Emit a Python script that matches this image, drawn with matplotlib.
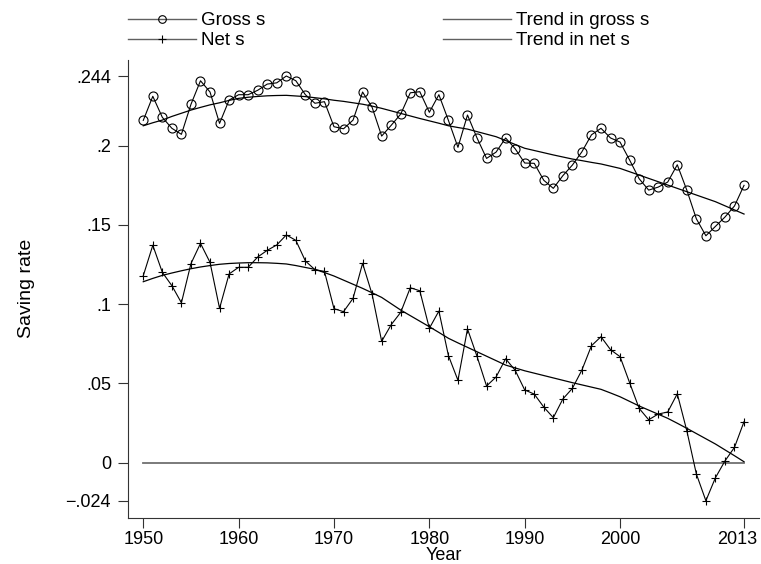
import matplotlib
matplotlib.use("Agg")
import matplotlib.pyplot as plt
from matplotlib.lines import Line2D
from matplotlib.transforms import ScaledTranslation

plt.rcParams['font.family'] = ['Liberation Sans', 'DejaVu Sans']

years = list(range(1950, 2014))

gross_s = [0.2160, 0.2312, 0.2179, 0.2110, 0.2072, 0.2261, 0.2410, 0.2339, 0.2141, 0.2288,
           0.2322, 0.2322, 0.2350, 0.2389, 0.2397, 0.2440, 0.2410, 0.2322, 0.2268, 0.2278,
           0.2120, 0.2107, 0.2162, 0.2339, 0.2242, 0.2061, 0.2129, 0.2200, 0.2334, 0.2341,
           0.2211, 0.2322, 0.2160, 0.1990, 0.2194, 0.2049, 0.1920, 0.1960, 0.2049, 0.1981,
           0.1891, 0.1889, 0.1782, 0.1731, 0.1811, 0.1878, 0.1962, 0.2069, 0.2110, 0.2049,
           0.2023, 0.1910, 0.1792, 0.1720, 0.1739, 0.1771, 0.1880, 0.1720, 0.1539, 0.1432,
           0.1491, 0.1550, 0.1620, 0.1750]

net_s = [0.1180, 0.1372, 0.1201, 0.1117, 0.1009, 0.1256, 0.1384, 0.1264, 0.0974, 0.1191,
         0.1233, 0.1233, 0.1298, 0.1340, 0.1374, 0.1437, 0.1403, 0.1273, 0.1218, 0.1207,
         0.0972, 0.0953, 0.1037, 0.1258, 0.1062, 0.0766, 0.0871, 0.0949, 0.1104, 0.1085,
         0.0848, 0.0957, 0.0676, 0.0520, 0.0844, 0.0671, 0.0484, 0.0541, 0.0656, 0.0583,
         0.0459, 0.0433, 0.0351, 0.0284, 0.0402, 0.0469, 0.0585, 0.0738, 0.0795, 0.0713,
         0.0669, 0.0505, 0.0343, 0.0271, 0.0307, 0.0320, 0.0435, 0.0202, -0.0071, -0.0240,
         -0.0095, 0.0011, 0.0097, 0.0259]

trend_gross = [0.2126, 0.2145, 0.2162, 0.2185, 0.2205, 0.2225, 0.2242, 0.2258, 0.2271, 0.2286,
               0.2299, 0.2306, 0.2311, 0.2315, 0.2317, 0.2318, 0.2314, 0.2310, 0.2303, 0.2296,
               0.2287, 0.2280, 0.2271, 0.2262, 0.2250, 0.2236, 0.2220, 0.2204, 0.2188, 0.2172,
               0.2157, 0.2142, 0.2126, 0.2115, 0.2105, 0.2089, 0.2073, 0.2057, 0.2033, 0.2008,
               0.1984, 0.1970, 0.1956, 0.1942, 0.1929, 0.1916, 0.1906, 0.1895, 0.1885, 0.1871,
               0.1857, 0.1836, 0.1815, 0.1794, 0.1773, 0.1752, 0.1731, 0.1710, 0.1689, 0.1668,
               0.1647, 0.1621, 0.1595, 0.1569]

trend_net = [0.1142, 0.1163, 0.1182, 0.1197, 0.1211, 0.1224, 0.1235, 0.1244, 0.1252, 0.1257,
             0.1260, 0.1262, 0.1262, 0.1261, 0.1258, 0.1254, 0.1244, 0.1232, 0.1220, 0.1200,
             0.1178, 0.1152, 0.1126, 0.1100, 0.1072, 0.1043, 0.1003, 0.0963, 0.0928, 0.0893,
             0.0858, 0.0822, 0.0785, 0.0756, 0.0728, 0.0700, 0.0672, 0.0644, 0.0616, 0.0598,
             0.0580, 0.0565, 0.0550, 0.0535, 0.0520, 0.0505, 0.0491, 0.0477, 0.0463, 0.0440,
             0.0416, 0.0387, 0.0358, 0.0332, 0.0306, 0.0280, 0.0249, 0.0217, 0.0184, 0.0151,
             0.0118, 0.0081, 0.0044, 0.0006]

zero_line = [0.0] * len(years)

y_ticks = [-0.024, 0, 0.05, 0.1, 0.15, 0.2, 0.244]
y_tick_labels = ["\u2212.024", "0", ".05", ".1", ".15", ".2", ".244"]
x_ticks = [1950, 1960, 1970, 1980, 1990, 2000, 2013]
x_tick_labels = ["1950", "1960", "1970", "1980", "1990", "2000", "2013"]

W, H = 761, 564
fig = plt.figure(figsize=(W / 100, H / 100), dpi=100)
ax = fig.add_axes([128.3 / W, 1 - 517.7 / H, (759 - 128.3) / W, (517.7 - 60) / H])

ax.plot(years, zero_line, color='#707070', lw=1.3, zorder=1)
ax.plot(years, gross_s, color='black', lw=0.8, marker='o', ms=6.5,
        mfc='none', mec='black', mew=0.8, zorder=3)
ax.plot(years, trend_gross, color='black', lw=0.9, zorder=2)
ax.plot(years, net_s, color='black', lw=0.8, marker='+', ms=5.5,
        mew=0.8, zorder=3)
ax.plot(years, trend_net, color='black', lw=0.9, zorder=2)

ax.set_xlim(1948.43, 2014.57)
ax.set_ylim(-0.0347, 0.2541)
ax.spines['top'].set_visible(False)
ax.spines['right'].set_visible(False)
for s in ('left', 'bottom'):
    ax.spines[s].set_linewidth(0.8)
    ax.spines[s].set_color('#333333')

ax.set_yticks(y_ticks)
ax.set_yticklabels(y_tick_labels)
ax.set_xticks(x_ticks)
ax.set_xticklabels(x_tick_labels)
ax.tick_params(axis='both', labelsize=13, length=7, width=0.8, color='#333333')
ax.tick_params(axis='y', pad=5.5)
ax.tick_params(axis='x', pad=2.5)

# shift the last x tick label left so it stays inside the canvas
last = ax.get_xticklabels()[-1]
last.set_transform(last.get_transform() + ScaledTranslation(-6.5 / 100, 0, fig.dpi_scale_trans))

ax.set_ylabel("Saving rate", fontsize=14, labelpad=22)
ax.set_xlabel("Year", fontsize=13, labelpad=-1)

h_gross = Line2D([], [], color='#606060', lw=1.0, marker='o', ms=5.5,
                 mfc='none', mec='black', mew=0.8)
h_net = Line2D([], [], color='#606060', lw=1.0, marker='+', ms=5.5,
               mec='black', mew=0.8)
h_tg = Line2D([], [], color='#606060', lw=1.0)
h_tn = Line2D([], [], color='#606060', lw=1.0)

common = dict(loc='upper left', frameon=False, fontsize=13.5, borderpad=0,
              borderaxespad=0, handlelength=3.6, handletextpad=0.3, labelspacing=0.17)
fig.legend([h_gross, h_net], ["Gross s", "Net s"],
           bbox_to_anchor=(128.3 / W, 1 - 12 / H), **common)
fig.legend([h_tg, h_tn], ["Trend in gross s", "Trend in net s"],
           bbox_to_anchor=(443.3 / W, 1 - 12 / H), **common)

fig.savefig("out.png", dpi=100)
